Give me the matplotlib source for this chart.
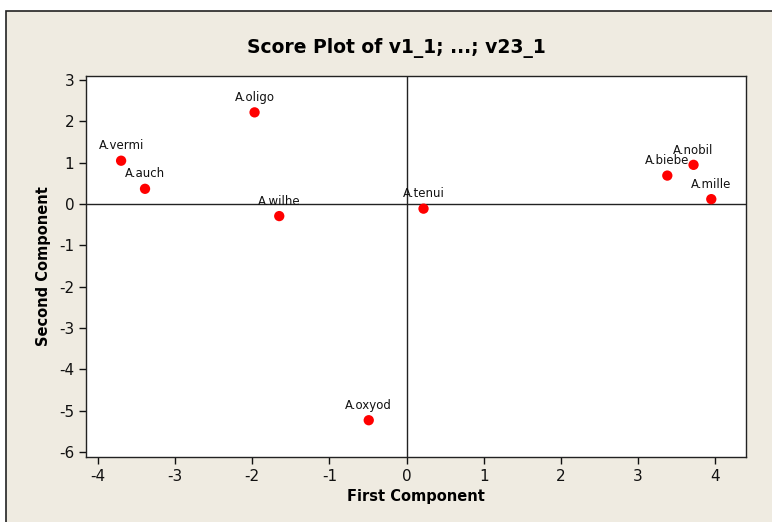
import matplotlib
matplotlib.use("Agg")
import matplotlib.pyplot as plt
from matplotlib.patches import Rectangle

plt.rcParams["axes.unicode_minus"] = False

names = ["A.oligo", "A.vermi", "A.auch", "A.wilhe", "A.tenui", "A.oxyod", "A.biebe", "A.nobil", "A.mille"]
first = [-1.97, -3.70, -3.39, -1.65, 0.22, -0.49, 3.38, 3.72, 3.95]
second = [2.22, 1.05, 0.37, -0.29, -0.11, -5.23, 0.69, 0.95, 0.12]
xticks = [-4, -3, -2, -1, 0, 1, 2, 3, 4]
yticks = [-6, -5, -4, -3, -2, -1, 0, 1, 2, 3]

bg = "#EFEBE1"
fig = plt.figure(figsize=(7.72, 5.22), dpi=100, facecolor="white")
# outer frame (screenshot crop)
fig.patches.append(Rectangle((6/772, -0.1), 1.1, (522-11)/522 + 0.1, transform=fig.transFigure,
                             facecolor=bg, edgecolor="#222222", linewidth=1.2, zorder=-10))

ax = fig.add_axes([86/772, 1-457/522, (746-86)/772, (457-76)/522])
ax.set_zorder(5)
ax.set_facecolor("white")
ax.set_xlim(-4.155, 4.40)
ax.set_ylim(-6.12, 3.10)
ax.axhline(0, color="#222222", lw=1.0, zorder=1)
ax.axvline(0, color="#222222", lw=1.0, zorder=1)
ax.scatter(first, second, s=55, color="#FF0000", edgecolors="none", zorder=3)
for n, x, y in zip(names, first, second):
    ax.annotate(n, (x, y), xytext=(0, 6), textcoords="offset points",
                ha="center", va="bottom", fontsize=8.5, color="#111111", zorder=4)

ax.set_xticks(xticks)
ax.set_yticks(yticks)
ax.tick_params(direction="out", length=5, width=1, labelsize=11, colors="#111111")
for s in ax.spines.values():
    s.set_color("#222222")
    s.set_linewidth(1.0)
ax.set_xlabel("First Component", fontsize=10.5, fontweight="bold", labelpad=4)
ax.set_ylabel("Second Component", fontsize=10.5, fontweight="bold", labelpad=6)
fig.text(0.5133, 1-48/522, "Score Plot of v1_1; ...; v23_1", ha="center", va="center",
         fontsize=13.5, fontweight="bold", zorder=6)

fig.savefig("out.png", dpi=100, facecolor=fig.get_facecolor())
